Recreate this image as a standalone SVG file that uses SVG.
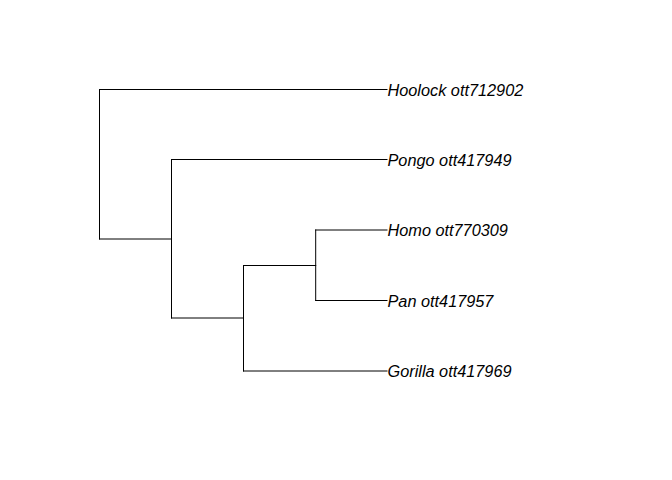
<svg xmlns="http://www.w3.org/2000/svg" width="672" height="480" viewBox="0 0 672 480">
<style>
.e{fill:none;stroke:#000;stroke-width:1;stroke-linecap:square}
.t{font-family:"Liberation Sans",Arial,sans-serif;font-style:italic;font-size:16.3px;fill:#000}
</style>
<rect width="672" height="480" fill="#fff"/>
<g id="connectors">
<path class="e" d="M99.5,89.5V239M99.5,89.5H387M99.5,239H171.5"/>
<path class="e" d="M171.5,159.5V318M171.5,159.5H387M171.5,318H243.5"/>
<path class="e" d="M243.5,265.5V371M243.5,371H387M243.5,265.5H315.7"/>
<path class="e" d="M315.7,230V300.5M315.7,230H387M315.7,300.5H387"/>
</g>
<g id="hoolock"><text class="t" x="387.5" y="95.5">Hoolock ott712902</text></g>
<g id="pongo"><text class="t" x="387.5" y="165.5">Pongo ott417949</text></g>
<g id="homo"><text class="t" x="387.5" y="236">Homo ott770309</text></g>
<g id="pan"><text class="t" x="387.5" y="306.5">Pan ott417957</text></g>
<g id="gorilla"><text class="t" x="387.5" y="377">Gorilla ott417969</text></g>
</svg>
